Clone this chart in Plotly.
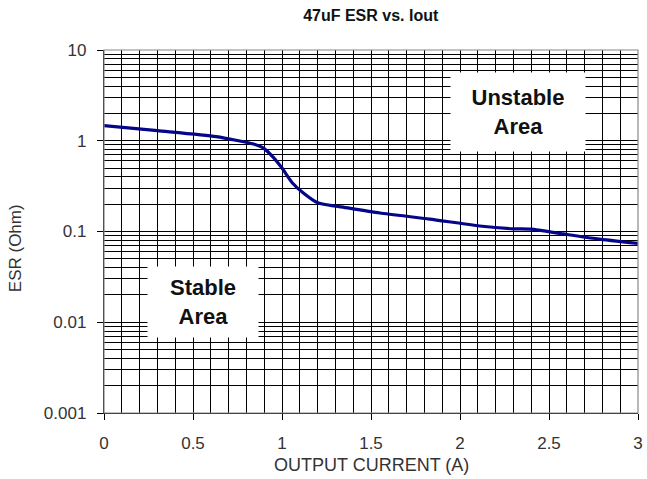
import plotly.graph_objects as go

# Data
iout = [0, 0.3, 0.63, 0.84, 0.9, 0.95, 1.0, 1.06, 1.12, 1.2, 1.37, 1.55, 1.83, 2.11, 2.3, 2.4, 2.58, 2.77, 3.0]
esr = [1.47, 1.29, 1.11, 0.92, 0.82, 0.66, 0.5, 0.34, 0.265, 0.207, 0.182, 0.16, 0.137, 0.115, 0.107, 0.106, 0.094, 0.083, 0.074]

title_text = "47uF ESR vs. Iout"
x_title = "OUTPUT CURRENT (A)"
y_title = "ESR (Ohm)"
y_major = [0.001, 0.01, 0.1, 1, 10]
y_major_text = ["0.001", "0.01", "0.1", "1", "10"]
y_minor = [m * d for d in [0.001, 0.01, 0.1, 1] for m in range(2, 10)]

FONT = "Liberation Sans, Arial, sans-serif"

fig = go.Figure()
fig.add_trace(go.Scatter(
    x=iout, y=esr, mode="lines",
    line=dict(color="#05058A", width=3.2, shape="spline", smoothing=0.6),
    hoverinfo="skip", showlegend=False,
))

fig.update_layout(
    width=647, height=479,
    margin=dict(l=104, r=9, t=50, b=66, autoexpand=False),
    paper_bgcolor="white", plot_bgcolor="white",
    font=dict(family=FONT, color="#222222"),
    title=dict(text="<b>" + title_text + "</b>", x=0.573, xanchor="center",
               y=0.967, yanchor="middle", font=dict(size=16, color="#111111")),
    xaxis=dict(
        range=[0, 3], dtick=0.5, tick0=0, automargin=False,
        showgrid=True, gridcolor="black", gridwidth=1.4,
        ticks="outside", ticklen=6, tickcolor="black", tickwidth=1.4,
        showline=True, linecolor="black", linewidth=1.4,
        tickfont=dict(size=17, color="#333333"),
        ticklabelstandoff=8,
        zeroline=False,
        minor=dict(dtick=0.1, tick0=0, showgrid=True, gridcolor="black", gridwidth=1.4, ticks=""),
    ),
    yaxis=dict(
        type="log", range=[-3, 1], automargin=False,
        tickvals=y_major, ticktext=y_major_text,
        showgrid=True, gridcolor="black", gridwidth=1.4,
        ticks="outside", ticklen=6, tickcolor="black", tickwidth=1.4,
        showline=True, linecolor="black", linewidth=1.4,
        tickfont=dict(size=17, color="#333333"),
        ticklabelstandoff=7,
        zeroline=False,
        minor=dict(tickvals=y_minor, showgrid=True, gridcolor="black", gridwidth=1.4, ticks=""),
    ),
)

# Axis titles
fig.add_annotation(x=0.5, y=-0.143, xref="paper", yref="paper", text=x_title,
                   showarrow=False, xanchor="center", yanchor="middle",
                   font=dict(size=18, color="#333333", family=FONT))
fig.add_annotation(x=-0.166, y=0.455, xref="paper", yref="paper", text=y_title,
                   showarrow=False, xanchor="center", yanchor="middle", textangle=-90,
                   font=dict(size=17, color="#333333", family=FONT))

# Top / right frame in grey
fig.add_shape(type="rect", xref="paper", yref="paper", x0=0, x1=1, y0=0, y1=1,
              line=dict(color="#888888", width=1.2), fillcolor="rgba(0,0,0,0)", layer="above")

fig.add_annotation(x=2.325, y=0.32, xref="x", yref="y",
                   text="<b>Unstable<br>Area</b>", showarrow=False,
                   font=dict(size=22, color="#111111", family=FONT),
                   bgcolor="white", width=132, height=76, align="center")
fig.add_annotation(x=0.555, y=-1.775, xref="x", yref="y",
                   text="<b>Stable<br>Area</b>", showarrow=False,
                   font=dict(size=22, color="#111111", family=FONT),
                   bgcolor="white", width=108, height=68, align="center")

fig.write_html("out.html", config={"displayModeBar": False},
               post_script="document.body.style.margin='0';")
